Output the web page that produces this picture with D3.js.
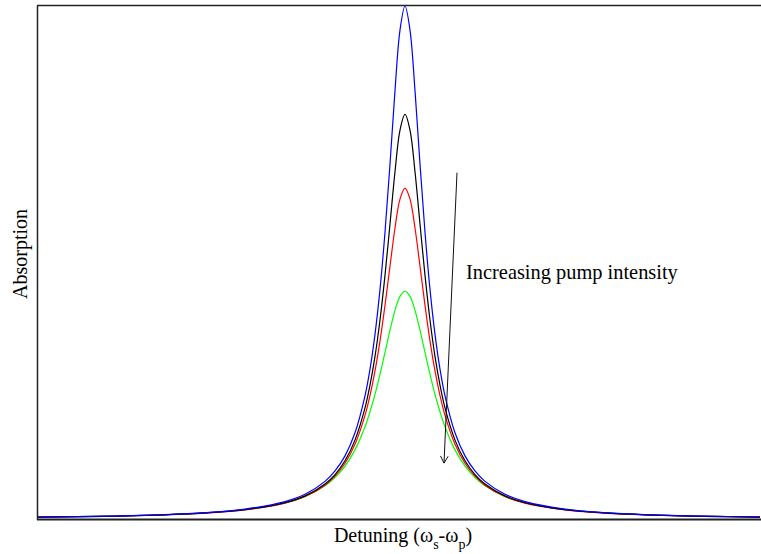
<!DOCTYPE html>
<html><head><meta charset="utf-8">
<script src="https://cdn.jsdelivr.net/npm/d3@7"></script>
<style>body{margin:0;background:#fff}svg{display:block}</style>
</head><body>
<script>
// detuning sample points (arbitrary units, peak at 0)
const detuning = [-18.35,-15,-12,-10,-8,-6,-5,-4,-3.5,-3,-2.5,-2,-1.75,-1.5,-1.25,-1,-0.75,-0.5,-0.25,0,
  0.25,0.5,0.75,1,1.25,1.5,1.75,2,2.5,3,3.5,4,5,6,8,10,12,15,17.75];
// half-profiles (from peak outwards)
const blueHalf  = [1.0,0.953,0.835,0.692,0.559,0.4475,0.360,0.292,0.240,0.168,0.123,0.0936,0.0733,0.0482,0.0340,0.0194,0.0125,0.0087,0.0056,0.0040];
const blackHalf = [0.789,0.758,0.677,0.575,0.475,0.388,0.317,0.261,0.2165,0.1538,0.1135,0.0867,0.0682,0.0450,0.0318,0.0182,0.01176,0.0082,0.00527,0.00377];
const redHalf   = [0.645,0.6236,0.5672,0.4929,0.4165,0.3473,0.2886,0.2406,0.2019,0.1456,0.1086,0.0835,0.0660,0.0438,0.0311,0.01786,0.01154,0.00806,0.00518,0.00371];
const greenHalf = [0.444,0.4340,0.4067,0.3680,0.3247,0.2821,0.2431,0.2090,0.1798,0.1347,0.1031,0.0807,0.0646,0.0436,0.0312,0.01811,0.01177,0.00824,0.00531,0.0038];
const leftEdge = {blue:0.0037, black:0.00353, red:0.00347, green:0.00356};
const seriesNames = ["green","red","black","blue"];
const seriesColors = ["#00ff00","#ff0000","#000000","#0000ff"];
const arrowFrom = [2.6, 0.675], arrowTo = [1.95, 0.109];
const annotation = "Increasing pump intensity";
const annotationAt = [3.05, 0.468];

function fullProfile(half, edge){
  const rev = half.slice(1, half.length-1).reverse(); // values at -15 .. -0.25
  return [edge, ...rev, ...half];
}
const profiles = {
  blue: fullProfile(blueHalf, leftEdge.blue),
  black: fullProfile(blackHalf, leftEdge.black),
  red: fullProfile(redHalf, leftEdge.red),
  green: fullProfile(greenHalf, leftEdge.green)
};

const W = 761, H = 554;
const svg = d3.select("body").append("svg").attr("width", W).attr("height", H);
const x = d3.scaleLinear().domain([-18.35, 17.75]).range([38, 760]);
const y = d3.scaleLinear().domain([0, 1]).range([519, 6]);

const line = d3.line().x(d => x(d[0])).y(d => y(d[1])).curve(d3.curveCatmullRom.alpha(0.5));
seriesNames.forEach((name, i) => {
  const pts = detuning.map((dx, j) => [dx, profiles[name][j]]);
  svg.append("path").attr("d", line(pts)).attr("fill", "none")
    .attr("stroke", seriesColors[i]).attr("stroke-width", 1.2);
});

// frame
const frame = svg.append("g").attr("stroke", "#222").attr("fill", "none");
frame.append("line").attr("x1", 37.5).attr("x2", 37.5).attr("y1", 5.5).attr("y2", 520).attr("stroke-width", 1.5);
frame.append("line").attr("x1", 37).attr("x2", W).attr("y1", 5.5).attr("y2", 5.5).attr("stroke-width", 1.5);
frame.append("line").attr("x1", 37).attr("x2", W).attr("y1", 519.5).attr("y2", 519.5).attr("stroke-width", 2);

// arrow
const ax1 = x(arrowFrom[0]), ay1 = y(arrowFrom[1]), ax2 = x(arrowTo[0]), ay2 = y(arrowTo[1]);
svg.append("line").attr("x1", ax1).attr("y1", ay1).attr("x2", ax2).attr("y2", ay2)
  .attr("stroke", "#111").attr("stroke-width", 1);
const ang = Math.atan2(ay2 - ay1, ax2 - ax1);
const hl = 8, ha = 0.5;
svg.append("path").attr("fill", "none").attr("stroke", "#111").attr("stroke-width", 1)
  .attr("d", `M${ax2 - hl*Math.cos(ang - ha)},${ay2 - hl*Math.sin(ang - ha)}L${ax2},${ay2}L${ax2 - hl*Math.cos(ang + ha)},${ay2 - hl*Math.sin(ang + ha)}`);

const font = "Times New Roman, Liberation Serif, DejaVu Serif, serif";
svg.append("text").attr("x", x(annotationAt[0])).attr("y", y(annotationAt[1]))
  .attr("font-family", font).attr("font-size", 20.4).attr("fill", "#000").text(annotation);

// x label
const xl = svg.append("text").attr("x", 403).attr("y", 542).attr("text-anchor", "middle")
  .attr("font-family", font).attr("font-size", 20).attr("fill", "#000");
xl.append("tspan").text("Detuning (ω");
xl.append("tspan").attr("font-size", 14).attr("dy", 7).text("s");
xl.append("tspan").attr("dy", -7).text("-ω");
xl.append("tspan").attr("font-size", 14).attr("dy", 7).text("p");
xl.append("tspan").attr("dy", -7).text(")");

// y label
svg.append("text").attr("transform", "translate(27,254) rotate(-90)").attr("text-anchor", "middle")
  .attr("font-family", font).attr("font-size", 20).attr("fill", "#000").text("Absorption");
</script>
</body></html>
